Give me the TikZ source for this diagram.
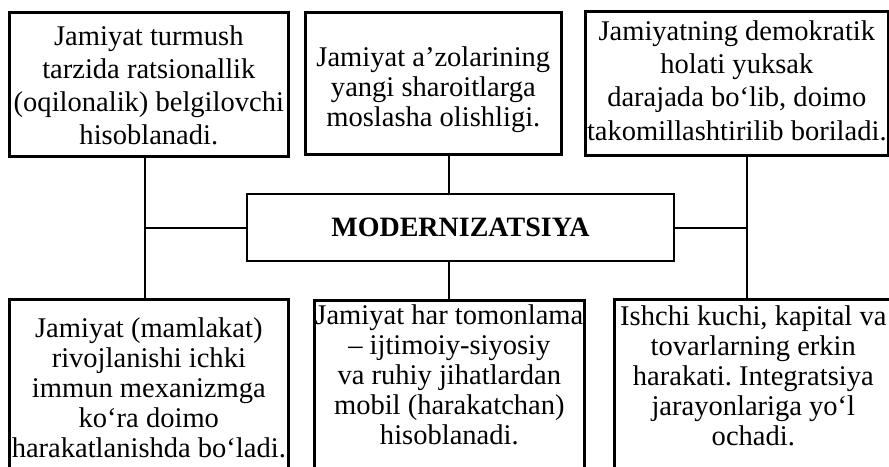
\documentclass[tikz,border=0pt]{standalone}
\usepackage{fontspec}
\setmainfont{Liberation Serif}
\frenchspacing
\newcommand{\cl}[1]{\hbox to\hsize{\hss#1\hss}}
\newcommand{\fl}[1]{\hbox to\hsize{\hss\rule{0pt}{15pt}#1\hss}}
\newcommand{\bt}[5]{\parbox[c][#2][t]{#1}{\baselineskip=#3\relax\vskip#4\relax #5}}
\tikzset{
  tbox/.style={draw, line width=2pt, inner sep=0pt, anchor=north west},
  conn/.style={line width=1.5pt},
}
\begin{document}
\begin{tikzpicture}[x=0.75pt, y=-0.75pt, font=\fontsize{21.4pt}{25pt}\selectfont]
\useasboundingbox (0,0) rectangle (889,467);
\fill[white] (0,0) rectangle (889,467);
\clip (0,0) rectangle (889,467);
\coordinate (lx) at (145,0);
\coordinate (cx) at (449,0);
\coordinate (rx) at (747,0);
\node[tbox] (tl) at (8,11) {\bt{209.25pt}{108pt}{24.7pt}{10pt}{\fl{Jamiyat turmush}\cl{tarzida ratsionallik}\cl{(oqilonalik) belgilovchi}\cl{hisoblanadi.}}};
\node[tbox] (tm) at (304,11) {\bt{192pt}{106.5pt}{22.5pt}{25.5pt}{\fl{Jamiyat a’zolarining}\cl{yangi sharoitlarga}\cl{moslasha olishligi.}}};
\node[tbox] (tr) at (584,10) {\bt{227.25pt}{108pt}{25pt}{6.75pt}{\fl{Jamiyatning demokratik}\cl{holati yuksak}\cl{darajada bo‘lib, doimo}\cl{takomillashtirilib boriladi.}}};
\node[draw, line width=2pt, inner sep=0pt, minimum width=320.25pt, minimum height=50.25pt, font=\fontsize{21pt}{25pt}\selectfont\bfseries] (m) at (460.5,227.5) {MODERNIZATSIYA};
\node[tbox] (bl) at (8,298) {\bt{209.25pt}{150pt}{22.5pt}{13.5pt}{\fl{Jamiyat (mamlakat)}\cl{rivojlanishi ichki}\cl{immun mexanizmga}\cl{ko‘ra doimo}\cl{harakatlanishda bo‘ladi.}}};
\node[tbox] (bm) at (313,299) {\bt{202.5pt}{150pt}{22.5pt}{3pt}{\fl{Jamiyat har tomonlama}\cl{– ijtimoiy-siyosiy}\cl{va ruhiy jihatlardan}\cl{mobil (harakatchan)}\cl{hisoblanadi.}}};
\node[tbox] (br) at (613,298) {\bt{208.5pt}{150pt}{22.5pt}{4.5pt}{\fl{Ishchi kuchi, kapital va}\cl{tovarlarning erkin}\cl{harakati. Integratsiya}\cl{jarayonlariga yo‘l}\cl{ochadi.}}};
\draw[conn] (tl.south -| lx) -- (bl.north -| lx);
\draw[conn] (lx |- m.west) -- (m.west);
\draw[conn] (tm.south -| cx) -- (m.north -| cx);
\draw[conn] (m.south -| cx) -- (bm.north -| cx);
\draw[conn] (tr.south -| rx) -- (br.north -| rx);
\draw[conn] (m.east) -- (m.east -| rx);
\end{tikzpicture}
\end{document}
